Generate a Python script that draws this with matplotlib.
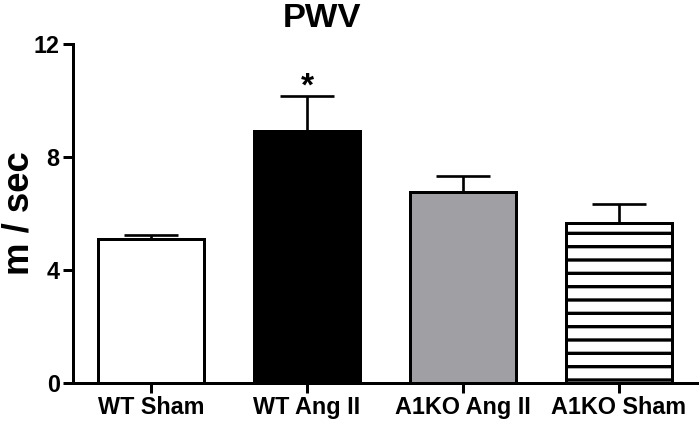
import matplotlib
matplotlib.use('Agg')
import matplotlib.pyplot as plt
import numpy as np

groups = ['WT Sham', 'WT Ang II', 'A1KO Ang II', 'A1KO Sham']
means = [5.10, 8.92, 6.76, 5.66]
sems = [0.13, 1.25, 0.58, 0.68]
sig = ['', '*', '', '']
yticks = [0, 4, 8, 12]
title = 'PWV'
ylabel = 'm / sec'

colors = ['white', 'black', '#a0a0a4', 'white']
hatches = [None, None, None, '-']

plt.rcParams['font.family'] = ['Liberation Sans', 'DejaVu Sans']
plt.rcParams['font.weight'] = 'bold'
plt.rcParams['hatch.linewidth'] = 3.0
plt.rcParams['hatch.color'] = 'black'

fig = plt.figure(figsize=(8.75, 5.275), dpi=80)
ax = fig.add_axes([73/700, 1-383/422, 624/700, 339/422])
x = np.arange(len(groups))
bars = ax.bar(x, means, width=0.68, color=colors, edgecolor='black', linewidth=2.7, zorder=2)
for b, h in zip(bars, hatches):
    if h:
        b.set_hatch(h)
ax.errorbar(x, means, yerr=[np.zeros(len(means)), sems], fmt='none', ecolor='black',
            elinewidth=2.4, capsize=24, capthick=2.4, zorder=3)
for xi, m, s, t in zip(x, means, sems, sig):
    if t:
        ax.annotate(t, (xi, m + s), xytext=(0, -6), textcoords='offset points',
                    ha='center', va='bottom', fontsize=30, fontweight='bold')

ax.set_xlim(-0.5, 3.5)
ax.set_ylim(0, 12)
ax.set_yticks(yticks)
ax.set_xticks(x)
ax.set_xticklabels(groups)
for s in ['top', 'right']:
    ax.spines[s].set_visible(False)
for s in ['left', 'bottom']:
    ax.spines[s].set_linewidth(2.7)
ax.tick_params(direction='out', length=9, width=2.7, labelsize=21)
ax.tick_params(axis='x', pad=3)
ax.tick_params(axis='y', pad=3)
ax.set_ylabel(ylabel, fontsize=33, fontweight='bold')
ax.yaxis.set_label_coords(-0.058, 0.5)
ax.set_title(title, x=0.399, y=1.05, pad=0, fontsize=31, fontweight='bold')

fig.savefig('out.png', dpi=80)
